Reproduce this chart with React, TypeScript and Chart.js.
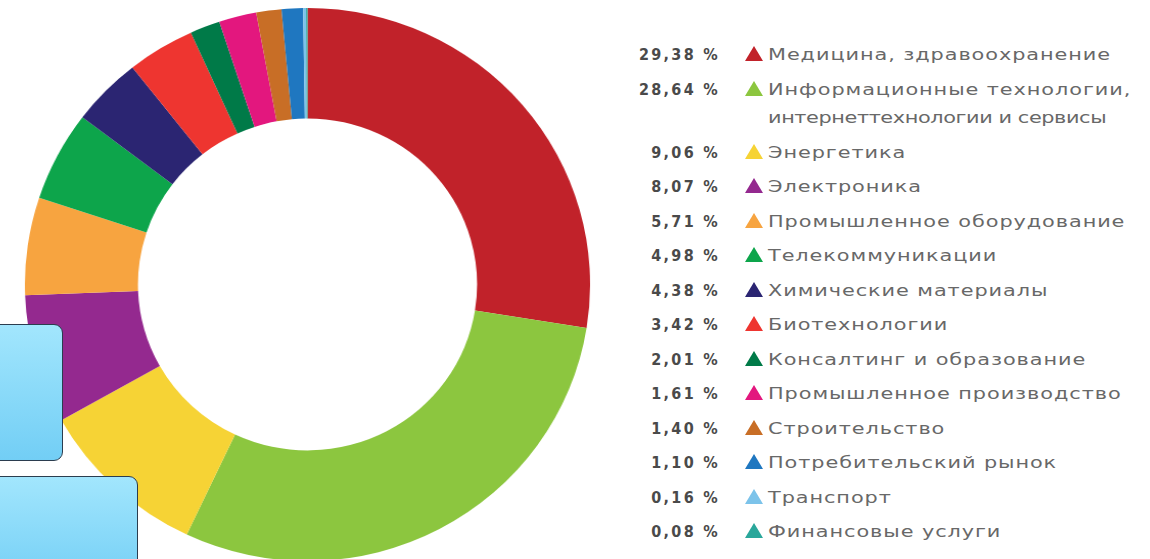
import React, { useEffect, useRef } from "react";
import { Chart, registerables } from "chart.js";

Chart.register(...registerables);

const categories: string[][] = [
  ["Медицина, здравоохранение"],
  ["Информационные технологии,", "интернеттехнологии и сервисы"],
  ["Энергетика"],
  ["Электроника"],
  ["Промышленное оборудование"],
  ["Телекоммуникации"],
  ["Химические материалы"],
  ["Биотехнологии"],
  ["Консалтинг и образование"],
  ["Промышленное производство"],
  ["Строительство"],
  ["Потребительский рынок"],
  ["Транспорт"],
  ["Финансовые услуги"],
];

// Percentages printed in the legend
const shares: number[] = [29.38, 28.64, 9.06, 8.07, 5.71, 4.98, 4.38, 3.42, 2.01, 1.61, 1.4, 1.1, 0.16, 0.08];

const sliceShares: number[] = [27.5, 29.5, 9.8, 7.55, 5.69, 5.25, 4.03, 3.86, 1.72, 2.14, 1.44, 1.22, 0.17, 0.08];

const shareLabels: string[] = shares.map((v) => v.toFixed(2).replace(".", ",") + " %");

const colors: string[] = [
  "#C1222A",
  "#8CC63F",
  "#F6D335",
  "#94298F",
  "#F7A440",
  "#0DA54B",
  "#2B2572",
  "#EE3530",
  "#007A48",
  "#E3177E",
  "#C86E26",
  "#1F77C0",
  "#7CC3EA",
  "#2AA79B",
];

function Triangle({ color }: { color: string }) {
  return (
    <svg width="18" height="15" viewBox="0 0 18 15" style={{ display: "block" }}>
      <polygon points="9,0 18,15 0,15" fill={color} />
    </svg>
  );
}

export default function App() {
  const canvasRef = useRef<HTMLCanvasElement | null>(null);

  useEffect(() => {
    if (!canvasRef.current) return;
    const chart = new Chart(canvasRef.current, {
      type: "doughnut",
      data: {
        labels: categories.map((c) => c.join(" ")),
        datasets: [
          {
            data: sliceShares,
            backgroundColor: colors,
            borderWidth: 0,
            hoverOffset: 0,
            offset: 0,
          },
        ],
      },
      options: {
        responsive: false,
        animation: false,
        cutout: "60%",
        layout: { padding: 0 },
        plugins: {
          legend: { display: false },
          tooltip: { enabled: false },
        },
      },
    });
    return () => chart.destroy();
  }, []);

  const rowTop = 41;
  const rowH = 34.5;
  const lineH = 28.5;
  let y = rowTop;
  const rows = categories.map((lines, i) => {
    const top = y;
    y += rowH + (lines.length - 1) * lineH;
    return (
      <div key={i} style={{ position: "absolute", left: 0, top, width: 530, height: 27.5 }}>
        <div
          style={{
            position: "absolute",
            left: 0,
            top: 0,
            width: 100,
            textAlign: "right",
            lineHeight: "27.5px",
            fontFamily: "'DejaVu Sans Condensed', 'DejaVu Sans', sans-serif",
            fontWeight: 700,
            fontSize: 16,
            letterSpacing: 2.3,
            color: "#4a4a4a",
            whiteSpace: "nowrap",
          }}
        >
          {shareLabels[i]}
        </div>
        <div style={{ position: "absolute", left: 125, top: 5 }}>
          <Triangle color={colors[i]} />
        </div>
        <div
          style={{
            position: "absolute",
            left: 148,
            top: 0,
            fontFamily: "'DejaVu Sans', sans-serif",
            fontSize: 16,
            color: "#686868",
            whiteSpace: "nowrap",
            transform: "scaleX(1.3)",
            transformOrigin: "left center",
          }}
        >
          {lines.map((l, j) => (
            <div
              key={j}
              style={{
                height: j < lines.length - 1 ? lineH : 27.5,
                lineHeight: "27.5px",
                letterSpacing: j === 0 ? 0.72 : -0.3,
              }}
            >
              {l}
            </div>
          ))}
        </div>
      </div>
    );
  });

  return (
    <div style={{ position: "absolute", left: 0, top: 0, width: 1150, height: 559, overflow: "hidden", background: "#ffffff" }}>
      <div
        style={{
          position: "absolute",
          left: 31,
          top: 8,
          width: 553,
          height: 553,
          transform: "scaleX(1.022)",
          transformOrigin: "center center",
        }}
      >
        <canvas ref={canvasRef} width={553} height={553} style={{ display: "block" }} />
      </div>

      <div style={{ position: "absolute", left: 620, top: 0, width: 530, height: 559 }}>{rows}</div>

      <div
        style={{
          position: "absolute",
          left: -10,
          top: 324,
          width: 71,
          height: 135,
          borderRadius: 9,
          border: "1px solid #2b3d4f",
          background: "linear-gradient(#a2e6fd, #72cef5)",
        }}
      />
      <div
        style={{
          position: "absolute",
          left: -10,
          top: 476,
          width: 146,
          height: 110,
          borderRadius: 9,
          border: "1px solid #2b3d4f",
          background: "linear-gradient(#a2e6fd, #72cef5)",
        }}
      />
    </div>
  );
}
